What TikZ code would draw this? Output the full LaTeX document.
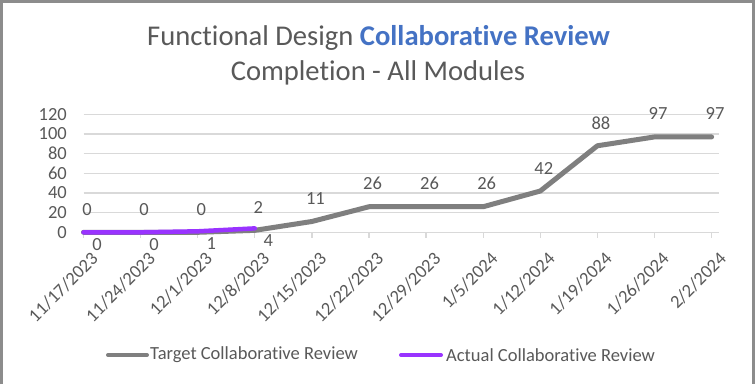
\documentclass[tikz,border=0pt]{standalone}
\usepackage{fontspec}
\setmainfont{Carlito}[Ligatures=CommonOff]
\definecolor{txt}{HTML}{595959}
\definecolor{gridc}{HTML}{D9D9D9}
\definecolor{tgt}{HTML}{7F7F7F}
\definecolor{act}{HTML}{9933FF}
\definecolor{ttlblue}{HTML}{4472C4}
\definecolor{framec}{HTML}{8C8C8C}
\tikzset{
  gridline/.style={gridc, line width=1.3pt},
  ylab/.style={anchor=east, inner sep=0pt, text=txt, font=\fontsize{18.5}{22}\selectfont},
  dlab/.style={inner sep=0pt, text=txt, font=\fontsize{18.5}{22}\selectfont},
  xlab/.style={inner sep=0pt, text=txt, font=\fontsize{18.5}{22}\selectfont, rotate=45, anchor=north east},
  tgtline/.style={tgt, line width=5pt, line cap=round, line join=round},
  actline/.style={act, line width=4.5pt, line cap=round, line join=round},
  legtxt/.style={anchor=west, inner sep=0pt, text=txt, font=\fontsize{18.5}{22}\selectfont},
  ttl/.style={inner sep=0pt, text=txt, font=\fontsize{28.6}{34}\selectfont},
}
\begin{document}
\begin{tikzpicture}[x=1pt,y=-1pt]
\useasboundingbox (0,0) rectangle (756,384);
\fill[white] (0,0) rectangle (756,384);
\draw[framec, line width=3pt] (1.5,384) -- (1.5,1.5) -- (753.5,1.5) -- (753.5,384);
% title
\node[ttl] (title1) at (378.5,38) {Functional Design \textcolor{ttlblue}{\bfseries Collaborative Review}};
\node[ttl] (title2) at (378,73) {Completion - All Modules};
% grid and y labels
\foreach \v in {0,20,...,120} {
  \draw[gridline] (83.5,{232.3-\v*0.9833}) -- (719,{232.3-\v*0.9833});
  \node[ylab] (yl\v) at (67,{232.3-\v*0.9833}) {\v};
}
% ticks
\foreach \i in {0,...,11} {
  \draw[gridline] ({83.5+\i*57.1},232.3) -- ({83.5+\i*57.1},237.5);
}
% x labels
\foreach \d [count=\i from 0] in {{11/17/2023},{11/24/2023},{12/1/2023},{12/8/2023},{12/15/2023},{12/22/2023},{12/29/2023},{1/5/2024},{1/12/2024},{1/19/2024},{1/26/2024},{2/2/2024}} {
  \node[xlab] (xl\i) at ({83.5+\i*57.1+6.5},250.5) {\d};
}
% target series
\foreach \v [count=\i from 0] in {0,0,0,2,11,26,26,26,42,88,97,97} {
  \coordinate (t\i) at ({83.5+\i*57.1},{232.3-\v*0.9833});
  \node[dlab] (tl\i) at ({83.5+\i*57.1+3.5},{232.3-\v*0.9833-23}) {\v};
}
\draw[tgtline] (t0) -- (t1) -- (t2) -- (t3) -- (t4) -- (t5) -- (t6) -- (t7) -- (t8) -- (t9) -- (t10) -- (t11);
% actual series
\foreach \v [count=\i from 0] in {0,0,1,4} {
  \coordinate (a\i) at ({83.5+\i*57.1},{232.3-\v*0.9833});
  \node[dlab] (al\i) at ({83.5+\i*57.1+13.5},{232.3-\v*0.9833+12.5}) {\v};
}
\draw[actline] (a0) -- (a1) -- (a2) -- (a3);
% legend
\coordinate (lg1a) at (108,355);
\coordinate (lg1b) at (147,355);
\draw[tgt, line width=4pt, line cap=round] (lg1a) -- (lg1b);
\node[legtxt] (lgt1) at (150,355) {Target Collaborative Review};
\coordinate (lg2a) at (401,355);
\coordinate (lg2b) at (441,355);
\draw[act, line width=4pt, line cap=round] (lg2a) -- (lg2b);
\node[legtxt] (lgt2) at (446,355) {Actual Collaborative Review};
\end{tikzpicture}
\end{document}
